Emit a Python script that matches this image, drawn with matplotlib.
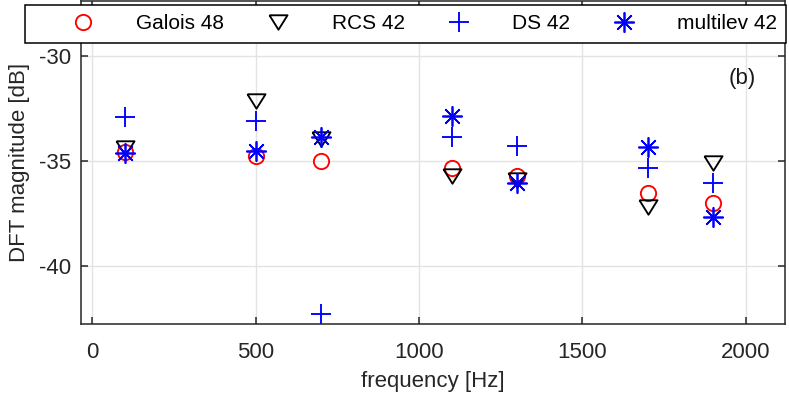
import matplotlib
matplotlib.use("Agg")
import matplotlib.pyplot as plt

plt.rcParams['font.family'] = ['Liberation Sans', 'DejaVu Sans']
plt.rcParams['axes.unicode_minus'] = False

# ---- data ----
freqs = [100, 500, 700, 1100, 1300, 1700, 1900]
galois48 = [-34.57, -34.78, -35.00, -35.33, -35.71, -36.55, -37.03]
rcs42 = [-34.41, -32.14, -33.98, -35.73, -35.92, -37.22, -35.12]
ds42 = [-32.90, -33.10, -42.31, -33.89, -34.29, -35.36, -36.08]
multilev42 = [-34.65, -34.54, -33.86, -32.87, -36.08, -34.33, -37.67]
labels = ["Galois 48", "RCS 42", "DS 42", "multilev 42"]
xticks = [0, 500, 1000, 1500, 2000]
yticks = [-40, -35, -30]

W, H = 789, 395
fig = plt.figure(figsize=(W / 100, H / 100), dpi=100)
ax = fig.add_axes([80.5 / W, 1 - 324 / H, (785 - 80.5) / W, (324 - 1) / H])

tri = [(-1, 0.8), (1, 0.8), (0, -0.8), (-1, 0.8)]
mew = 1.35
ax.plot(freqs, galois48, linestyle='none', marker='o', ms=11, mfc='none',
        mec='#ff0000', mew=mew, label=labels[0])
ax.plot(freqs, rcs42, linestyle='none', marker=tri, ms=13, mfc='none',
        mec='black', mew=mew, label=labels[1])
ax.plot(freqs, ds42, linestyle='none', marker='+', ms=14.5,
        mec='#0000ff', mew=mew, label=labels[2])
ax.plot(freqs, multilev42, linestyle='none', marker=(8, 2, 0), ms=14.5,
        mec='#0000ff', mew=1.25, label=labels[3])

ax.set_xlim(-36, 2120)
ax.set_ylim(-42.78, -27.4)
ax.set_xticks(xticks)
ax.set_yticks(yticks)
ax.grid(True, color='#e3e3e3', linewidth=1.0)
ax.set_axisbelow(True)
for s in ax.spines.values():
    s.set_color('#262626')
    s.set_linewidth(1.1)
ax.tick_params(direction='in', length=5, width=1.1, color='#262626',
               top=True, right=True, labelsize=16, labelcolor='#262626')
ax.tick_params(axis='y', pad=7)
ax.tick_params(axis='x', pad=13)

ax.set_xlabel("frequency [Hz]", fontsize=16, color='#262626', labelpad=6)
ax.set_ylabel("DFT magnitude [dB]", fontsize=16, color='#262626', labelpad=6)

ax.text(1988, -31.1, "(b)", ha='center', va='center', fontsize=16, color='#1a1a1a')

leg = fig.legend(loc='upper left', bbox_to_anchor=(25 / W, 1 - 5 / H),
                 bbox_transform=fig.transFigure, borderaxespad=0,
                 ncol=4, fontsize=15, handlelength=4.7, handletextpad=0.2,
                 columnspacing=0.24, borderpad=0.45, fancybox=False,
                 framealpha=1, edgecolor='black')
leg.get_frame().set_linewidth(1.1)

fig.savefig("out.png", dpi=100)
